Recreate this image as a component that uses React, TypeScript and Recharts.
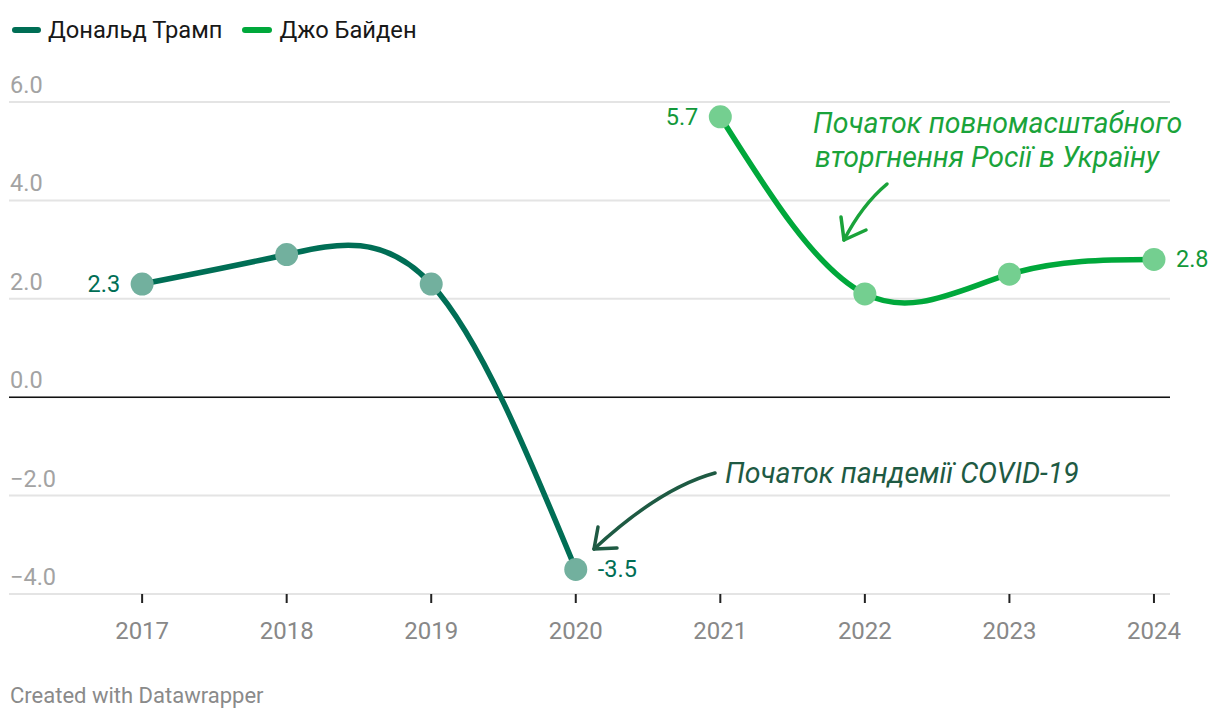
import React from 'react';
import {
  LineChart,
  Line,
  XAxis,
  YAxis,
  CartesianGrid,
  ReferenceLine,
  LabelList,
} from 'recharts';

const years = [2017, 2018, 2019, 2020, 2021, 2022, 2023, 2024];
const trumpGdp: (number | null)[] = [2.3, 2.9, 2.3, -3.5, null, null, null, null];
const bidenGdp: (number | null)[] = [null, null, null, null, 5.7, 2.1, 2.5, 2.8];
const yTicks = [-4, -2, 0, 2, 4, 6];
const seriesNames = ['Дональд Трамп', 'Джо Байден'];
const covidNote = 'Початок пандемії COVID-19';
const invasionNote = ['Початок повномасштабного', 'вторгнення Росії в Україну'];

const data = years.map((year, i) => ({ year, trump: trumpGdp[i], biden: bidenGdp[i] }));

const TRUMP = '#006e55';
const BIDEN = '#00a83b';
const TRUMP_DOT = '#72b09e';
const BIDEN_DOT = '#74cf90';
const TRUMP_TXT = '#006e55';
const BIDEN_TXT = '#12983a';
const FONT = 'Roboto, "Noto Sans", sans-serif';

const fmtY = (v: number) => (v < 0 ? '\u2212' + Math.abs(v).toFixed(1) : v.toFixed(1));

const makeDot = (fill: string) => (props: any) => {
  const { cx, cy, value, index } = props;
  if (value == null || cy == null || isNaN(cy)) return <g key={`d${index}`} />;
  return <circle key={`d${index}`} cx={cx} cy={cy} r={11.5} fill={fill} />;
};

const makeLabel = (color: string, leftIdx: number, rightIdx: number) => (props: any) => {
  const { x, y, value, index } = props;
  if (value == null) return null;
  if (index !== leftIdx && index !== rightIdx) return null;
  const left = index === leftIdx;
  return (
    <text
      x={left ? x - 22 : x + 22}
      y={y}
      dy={8}
      textAnchor={left ? 'end' : 'start'}
      fontSize={23.5}
      fontFamily={FONT}
      fill={color}
    >
      {String(value)}
    </text>
  );
};

const YTick = (props: any) => {
  const { y, payload } = props;
  return (
    <text x={10} y={y - 9} fontSize={23.5} fontFamily={FONT} fill="#a3a3a3" textAnchor="start">
      {fmtY(payload.value)}
    </text>
  );
};

const XTick = (props: any) => {
  const { x, y, payload } = props;
  return (
    <text x={x} y={y} dy={34} fontSize={24} fontFamily={FONT} fill="#888888" textAnchor="middle">
      {payload.value}
    </text>
  );
};

export default function App() {
  return (
    <div
      style={{
        position: 'relative',
        width: 1220,
        height: 720,
        margin: -8,
        background: '#fff',
        fontFamily: FONT,
        overflow: 'hidden',
      }}
    >
      {/* Legend */}
      <div style={{ position: 'absolute', left: 12, top: 15, display: 'flex', alignItems: 'center', fontSize: 23.7, color: '#181818', lineHeight: '30px' }}>
        <span style={{ display: 'inline-block', width: 29, height: 6, borderRadius: 3, background: TRUMP, marginRight: 7 }} />
        <span style={{ marginRight: 20 }}>{seriesNames[0]}</span>
        <span style={{ display: 'inline-block', width: 30, height: 6, borderRadius: 3, background: BIDEN, marginRight: 7 }} />
        <span>{seriesNames[1]}</span>
      </div>

      <div style={{ position: 'absolute', left: 0, top: 0 }}>
        <LineChart width={1220} height={660} data={data} margin={{ top: 102, right: 50, bottom: 26, left: 9 }}>
          <CartesianGrid vertical={false} stroke="#e4e4e4" strokeWidth={2} />
          <XAxis
            dataKey="year"
            type="number"
            domain={[2016.079, 2024.111]}
            ticks={years}
            axisLine={false}
            tickLine={{ stroke: '#222', strokeWidth: 2 }}
            tickSize={9}
            height={40}
            tick={<XTick />}
            interval={0}
          />
          <YAxis
            type="number"
            domain={[-4, 6]}
            ticks={yTicks}
            width={1}
            mirror
            axisLine={false}
            tickLine={false}
            tick={<YTick />}
            interval={0}
          />
          <ReferenceLine y={0} stroke="#111" strokeWidth={1.5} />
          <Line
            dataKey="trump"
            stroke="none"
            dot={makeDot(TRUMP_DOT)}
            activeDot={false}
            isAnimationActive={false}
            legendType="none"
          />
          <Line
            dataKey="biden"
            stroke="none"
            dot={makeDot(BIDEN_DOT)}
            activeDot={false}
            isAnimationActive={false}
            legendType="none"
          />
          <Line
            type="natural"
            dataKey="trump"
            stroke={TRUMP}
            strokeWidth={5.5}
            strokeLinecap="round"
            dot={false}
            activeDot={false}
            isAnimationActive={false}
          >
            <LabelList dataKey="trump" content={makeLabel(TRUMP_TXT, 0, 3)} />
          </Line>
          <Line
            type="natural"
            dataKey="biden"
            stroke={BIDEN}
            strokeWidth={5.5}
            strokeLinecap="round"
            dot={false}
            activeDot={false}
            isAnimationActive={false}
          >
            <LabelList dataKey="biden" content={makeLabel(BIDEN_TXT, 4, 7)} />
          </Line>
        </LineChart>
      </div>

      {/* Annotations */}
      <svg width={1220} height={720} style={{ position: 'absolute', left: 0, top: 0, pointerEvents: 'none' }}>
        <text x={725} y={483} fontSize={28.5} fontStyle="italic" fontFamily={FONT} fill="#1e5a43">
          {covidNote}
        </text>
        <path d="M715,473 Q660,488 594,549" fill="none" stroke="#1e5a43" strokeWidth={3.5} strokeLinecap="round" />
        <path d="M598,527 L594,549 L617,548" fill="none" stroke="#1e5a43" strokeWidth={3.5} strokeLinecap="round" strokeLinejoin="round" />

        <text x={813} y={133} fontSize={28.5} fontStyle="italic" fontFamily={FONT} fill="#1aa33a">
          {invasionNote[0]}
        </text>
        <text x={815} y={167} fontSize={28.5} fontStyle="italic" fontFamily={FONT} fill="#1aa33a">
          {invasionNote[1]}
        </text>
        <path d="M887,184 Q862,205 844,240" fill="none" stroke="#1aa33a" strokeWidth={3.5} strokeLinecap="round" />
        <path d="M841,217 L844,240 L866,230" fill="none" stroke="#1aa33a" strokeWidth={3.5} strokeLinecap="round" strokeLinejoin="round" />
      </svg>

      <div style={{ position: 'absolute', left: 10, top: 682, fontSize: 22, color: '#8a8a8a', lineHeight: '28px' }}>
        Created with Datawrapper
      </div>
    </div>
  );
}
